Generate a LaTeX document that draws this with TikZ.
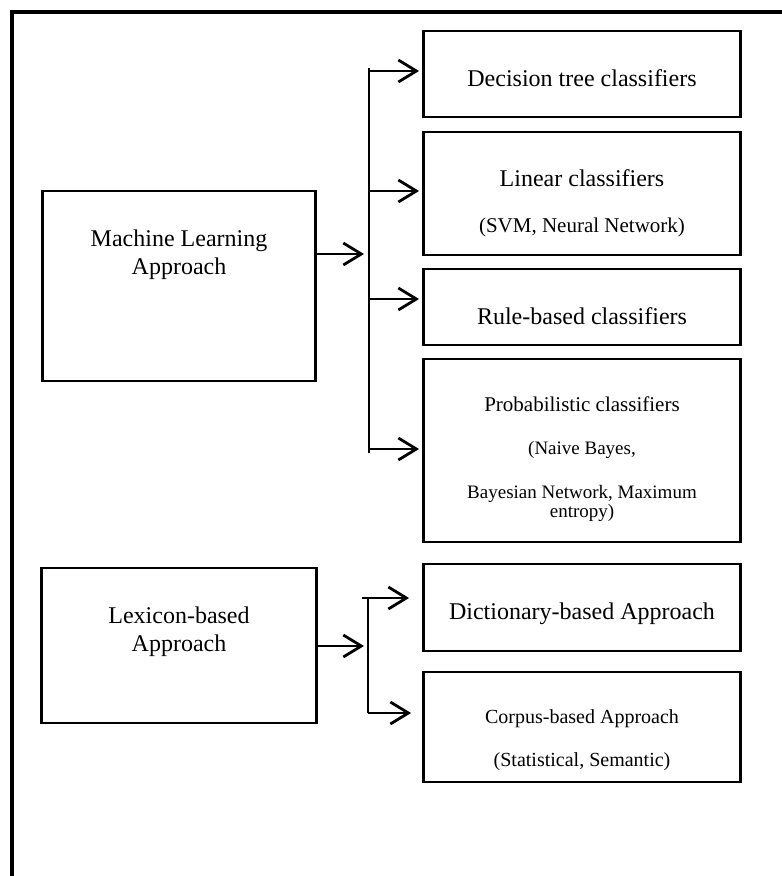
\documentclass[tikz,border=0pt]{standalone}
\usepackage{fontspec}
\setmainfont{Liberation Serif}
\usetikzlibrary{arrows.meta}

\newcommand\fsz[1]{\fontsize{#1}{#1}\selectfont}

\begin{document}
\begin{tikzpicture}[x=1pt,y=-1pt,
	box/.style={draw,line width=2.9pt,inner sep=0pt},
	txt/.style={anchor=base,inner sep=0pt,font=\fsz{24}},
	arr/.style={line width=2.8pt,-{Straight Barb[length=18pt,width=22pt]}},
	bus/.style={line width=1.5pt}]

\def\colX{582}
\def\colW{317pt}
\def\leftX{179}
\def\busA{369}
\def\busB{368}

\useasboundingbox (0,0) rectangle (782,876);

% frame, only top and left are in view
\draw [line width=3.2pt] (782,12) -- (12,12) -- (12,876);

% machine learning
\node [box,minimum width=273pt,minimum height=190pt] (ml) at (\leftX,286) {};
\node [txt] (mlA) at (\leftX,246) {Machine Learning};
\node [txt] (mlB) at (\leftX,274) {Approach};

\node [box,minimum width=\colW,minimum height=86pt] (dt) at (\colX,74) {};
\node [txt] (dtA) at (\colX,86) {Decision tree classifiers};

\node [box,minimum width=\colW,minimum height=123pt] (lin) at (\colX,193.5) {};
\node [txt] (linA) at (\colX,186) {Linear classifiers};
\node [txt,font=\fsz{21}] (linB) at (\colX,232) {(SVM, Neural Network)};

\node [box,minimum width=\colW,minimum height=76pt] (rule) at (\colX,307) {};
\node [txt] (ruleA) at (\colX,324) {Rule-based classifiers};

\node [box,minimum width=\colW,minimum height=183pt] (prob) at (\colX,450.5) {};
\node [txt,font=\fsz{21}] (probA) at (\colX,411) {Probabilistic classifiers};
\node [txt,font=\fsz{19}] (probB) at (\colX,454) {(Naive Bayes,};
\node [txt,font=\fsz{19}] (probC) at (\colX,498) {Bayesian Network, Maximum};
\node [txt,font=\fsz{19}] (probD) at (\colX,517) {entropy)};

% bus
\coordinate (mlTop) at (\busA,68);
\coordinate (mlBot) at (\busA,453);
\coordinate (mlIn) at (\busA,254);
\draw [bus] (mlTop) -- (mlBot);
\draw [arr,shorten >=5pt] (mlIn -| ml.east) -- (mlIn);
\foreach \n/\y in {dt/71,lin/191,rule/299,prob/449} {
	\coordinate (b-\n) at (\busA,\y);
	\draw [arr,shorten >=3pt] (b-\n) -- (b-\n -| \n.west);
}

% lexicon based
\node [box,minimum width=275pt,minimum height=155pt] (lex) at (\leftX,645.5) {};
\node [txt] (lexA) at (\leftX,623) {Lexicon-based};
\node [txt] (lexB) at (\leftX,651) {Approach};

\node [box,minimum width=\colW,minimum height=87pt] (dict) at (\colX,607.5) {};
\node [txt] (dictA) at (\colX,619) {Dictionary-based Approach};

\node [box,minimum width=\colW,minimum height=110pt] (corp) at (\colX,727) {};
\node [txt,font=\fsz{20}] (corpA) at (\colX,723) {Corpus-based Approach};
\node [txt,font=\fsz{20}] (corpB) at (\colX,766) {(Statistical, Semantic)};

\coordinate (lxTop) at (\busB,598);
\coordinate (lxBot) at (\busB,713);
\coordinate (lxIn) at (\busB,646);
\draw [bus] (lxTop) -- (lxBot);
\draw [arr,shorten >=4pt] (lxIn -| lex.east) -- (lxIn);
\draw [arr,shorten >=13pt] ([xshift=-6pt]lxTop) -- (lxTop -| dict.west);
\draw [arr,shorten >=11pt] (lxBot) -- (lxBot -| corp.west);

\end{tikzpicture}
\end{document}
